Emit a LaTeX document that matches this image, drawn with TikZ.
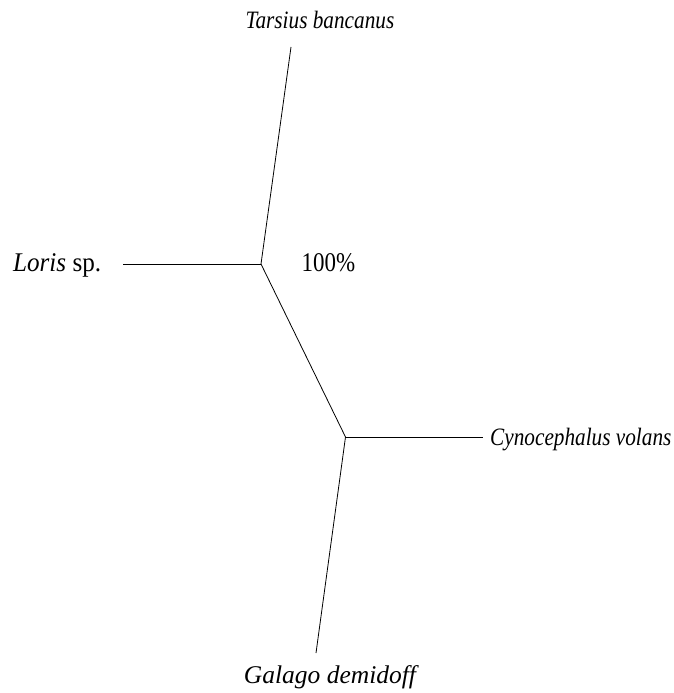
\documentclass[tikz,border=0pt]{standalone}
\usepackage{fontspec}
\setmainfont{Liberation Serif}
\usepackage{tikz}
\usetikzlibrary{positioning, calc}
\newcommand{\narrow}[2][0.85]{\scalebox{#1}[1]{#2}}

\begin{document}
\begin{tikzpicture}[
        x=1pt, y=-1pt,
        branch/.style={line width=0.8pt, black},
        taxon/.style={inner sep=0pt, font=\fontsize{25}{28}\selectfont\itshape},
        support/.style={inner sep=0pt, font=\fontsize{27}{30}\selectfont}
    ]
        \useasboundingbox (0,0) rectangle (673,693);

        % Internal nodes
        \coordinate (n1) at (261,264);
        \coordinate (n2) at (345.5,437);

        % Leaf ends
        \coordinate (tarsiusend) at (291,47);
        \coordinate (lorisend) at (123,264);
        \coordinate (cynoend) at (483,437);
        \coordinate (galagoend) at (316,653);

        % Branches
        \draw[branch] (n1) -- (tarsiusend);
        \draw[branch] (n1) -- (lorisend);
        \draw[branch] (n1) -- (n2);
        \draw[branch] (n2) -- (cynoend);
        \draw[branch] (n2) -- (galagoend);

        % Labels
        \node[taxon, anchor=base] (tarsius) at (320,29) {\narrow{Tarsius bancanus}};
        \node[taxon, anchor=base west, font=\fontsize{27}{30}\selectfont] (loris) at (13,271.5) {\narrow[0.93]{\textit{Loris} sp.}};
        \node[taxon, anchor=base west] (cyno) at (490,445) {\narrow{Cynocephalus volans}};
        \node[taxon, anchor=base, font=\fontsize{25.5}{28}\selectfont\itshape] (galago) at (330,683) {Galago demidoff};
        \node[support, anchor=base west] (boot) at (301.5,271) {\narrow{100\%}};
    \end{tikzpicture}
\end{document}
